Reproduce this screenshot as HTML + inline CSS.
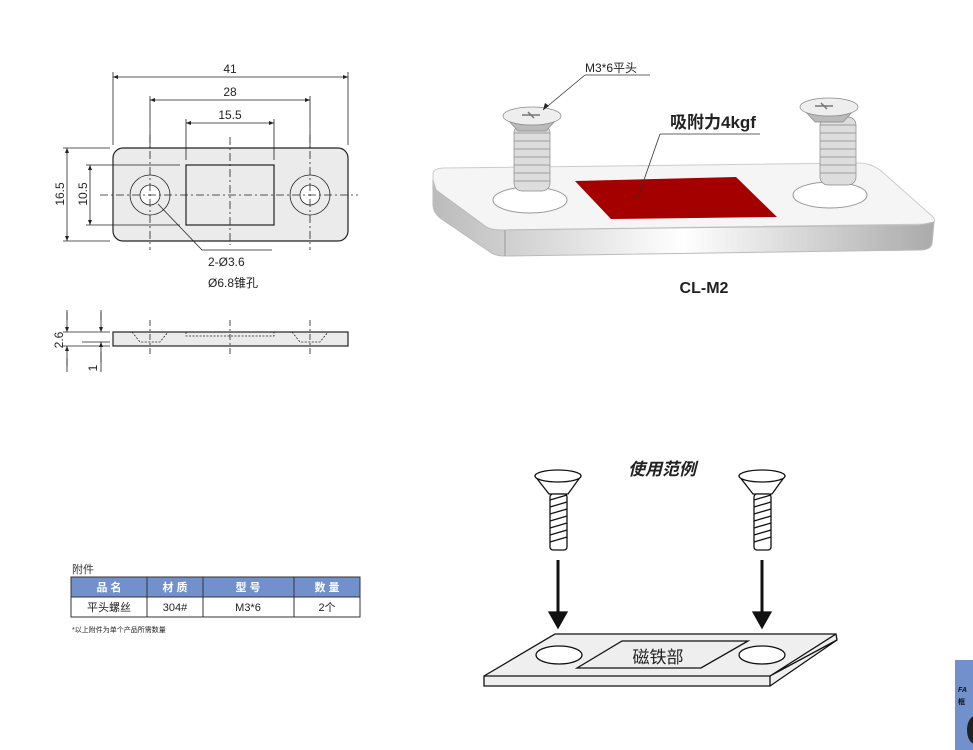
<!DOCTYPE html><html><head><meta charset="utf-8"><style>body{margin:0;background:#fff}svg{display:block}text{font-family:"Liberation Sans","Noto Sans CJK SC",sans-serif}</style></head><body>
<svg width="973" height="750" viewBox="0 0 973 750" xmlns="http://www.w3.org/2000/svg">
<defs><marker id="a" viewBox="0 0 10 10" refX="10" refY="5" markerUnits="userSpaceOnUse" markerWidth="8" markerHeight="5" orient="auto-start-reverse"><path d="M0,1L10,5L0,9z" fill="#222"/></marker>
<linearGradient id="g" x1="0" x2="1"><stop offset="0" stop-color="#bbb"/><stop offset=".5" stop-color="#fff"/><stop offset="1" stop-color="#aaa"/></linearGradient></defs>
<g stroke="#222" stroke-width="0.8" fill="none">
<rect x="113" y="148" width="235" height="93" rx="10" fill="#ebebeb" stroke-width="1.2"/>
<rect x="186" y="165" width="88" height="60" stroke-width="1.2"/>
<circle cx="150" cy="195" r="20"/><circle cx="150" cy="195" r="10" fill="#fff"/>
<circle cx="310" cy="195" r="20"/><circle cx="310" cy="195" r="10" fill="#fff"/>
<path d="M100 195H358M230 137V245M150 135V250M310 135V250" stroke-dasharray="8 3 2 3"/>
<path d="M113 72V145M348 72V145M150 96V148M310 96V148M186 119V160M274 119V160M63 148H110M63 241H110M86 165H180M86 225H180"/>
<path d="M113 77H348" marker-start="url(#a)" marker-end="url(#a)"/>
<path d="M150 100H310" marker-start="url(#a)" marker-end="url(#a)"/>
<path d="M186 123H274" marker-start="url(#a)" marker-end="url(#a)"/>
<path d="M67 148V241" marker-start="url(#a)" marker-end="url(#a)"/>
<path d="M90 165V225" marker-start="url(#a)" marker-end="url(#a)"/>
<path d="M158 204L202 250H272"/>
<rect x="113" y="332" width="235" height="14" fill="#ebebeb" stroke-width="1.2"/>
<path d="M132 332L140 342H160L168 332M186 332V336H274V332M292 332L300 342H320L328 332" stroke-dasharray="2 1.5"/>
<path d="M150 320V356M230 320V356M310 320V356" stroke-dasharray="6 3 2 3"/>
<path d="M63 332H110M63 346H110M82 342H110M67 310V320M67 358V372M101 310V320M101 352V372" />
<path d="M67 312V332" marker-end="url(#a)"/><path d="M67 366V346" marker-end="url(#a)"/>
<path d="M101 312V332" marker-end="url(#a)"/><path d="M101 362V342" marker-end="url(#a)"/>
</g>
<g font-size="12" fill="#222">
<text x="230" y="73" text-anchor="middle">41</text><text x="230" y="96" text-anchor="middle">28</text><text x="230" y="119" text-anchor="middle">15.5</text>
<text transform="translate(64,194) rotate(-90)" text-anchor="middle">16.5</text><text transform="translate(87,194) rotate(-90)" text-anchor="middle">10.5</text>
<text x="208" y="266">2-Ø3.6</text><text x="208" y="287">Ø6.8锥孔</text>
<text transform="translate(63,340) rotate(-90)" text-anchor="middle">2.6</text><text transform="translate(97,368) rotate(-90)" text-anchor="middle">1</text>
</g>
<!-- 3D -->
<path d="M433 174Q433 168 445 168L860 163Q870 163 880 170L932 216Q938 222 930 224L500 230Q490 230 485 226L436 190Q433 186 433 180Z" fill="#f5f5f5" stroke="#ccc"/>
<path d="M433 180L433 205Q433 212 440 218L490 252Q495 256 505 256L920 250Q930 250 932 244L934 222L920 225L500 230Q490 230 485 226L436 190Z" fill="url(#g)" stroke="#bbb"/>
<path d="M505 230L505 256" stroke="#999"/>
<ellipse cx="530" cy="200" rx="37" ry="13" fill="#fff" stroke="#999"/>
<ellipse cx="830" cy="195" rx="37" ry="13" fill="#fff" stroke="#999"/>
<path d="M575 181L736 177L777 217L611 219Z" fill="#a50000"/>
<g fill="#ddd" stroke="#888" stroke-width="0.7">
<rect x="514" y="125" width="36" height="66" rx="8"/><rect x="820" y="117" width="36" height="68" rx="8"/>
<path d="M514 133h36M514 141h36M514 149h36M514 157h36M514 165h36M514 173h36M514 181h36M820 125h36M820 133h36M820 141h36M820 149h36M820 157h36M820 165h36M820 173h36"/>
<path d="M507 119L518 131H546L557 119Z" fill="#bbb"/>
<ellipse cx="532" cy="116" rx="29" ry="9" fill="#eee"/>
<path d="M804 110L815 122H843L854 110Z" fill="#bbb"/>
<ellipse cx="829" cy="107" rx="29" ry="9" fill="#eee"/>
<path d="M522 115h18M528 112l6 6M815 106h18M821 103l6 6" stroke="#777" stroke-width="1.5"/>
</g>
<path d="M585 75H650M585 75L543 110M660 134H760M660 134L638 197" stroke="#333" stroke-width="0.8" fill="none"/>
<path d="M543 110l2-7 4 3z" fill="#222"/>
<text x="585" y="72" font-size="12" fill="#222">M3*6平头</text>
<text x="670" y="128" font-size="17" font-weight="bold" fill="#222">吸附力4kgf</text>
<text x="704" y="293" font-size="16" font-weight="bold" fill="#222" text-anchor="middle">CL-M2</text>
<!-- bottom usage -->
<text x="662" y="475" font-size="17" font-weight="bold" font-style="italic" fill="#222" text-anchor="middle">使用范例</text>
<g stroke="#111" stroke-width="1.3" fill="#fff">
<path d="M535 476Q558 466 581 476L568 494H549Z"/><ellipse cx="558" cy="476" rx="23" ry="6"/>
<rect x="550" y="494" width="17" height="56" rx="3"/>
<path d="M739 476Q762 466 785 476L772 494H753Z"/><ellipse cx="762" cy="476" rx="23" ry="6"/>
<rect x="754" y="494" width="17" height="56" rx="3"/>
<path d="M550 500l17-5M550 507l17-5M550 514l17-5M550 521l17-5M550 528l17-5M550 535l17-5M550 542l17-5M754 500l17-5M754 507l17-5M754 514l17-5M754 521l17-5M754 528l17-5M754 535l17-5M754 542l17-5" fill="none"/>
<path d="M558 560V612M762 560V612" stroke-width="3"/>
<path d="M549 612H567L558 628ZM753 612H771L762 628Z" fill="#111"/>
<path d="M484 676L555 634H836L837 640L770 686H484Z" fill="#efefef"/>
<path d="M484 676H770L837 640M770 676V686M836 634L770 676" fill="none"/>
<path d="M577 668L622 641H748L701 668Z" fill="#eee"/>
<ellipse cx="559" cy="655" rx="23" ry="9"/><ellipse cx="762" cy="655" rx="23" ry="9"/>
</g>
<text x="658" y="663" font-size="17" fill="#222" text-anchor="middle">磁铁部</text>
<!-- table -->
<text x="72" y="573" font-size="11" fill="#333">附件</text>
<rect x="71" y="577" width="289" height="20" fill="#7190cc"/>
<rect x="71" y="577" width="289" height="40" fill="none" stroke="#333" stroke-width="1"/>
<path d="M71 597H360M147 577V617M203 577V617M294 577V617" stroke="#333"/>
<g font-size="11" text-anchor="middle"><g fill="#fff" font-weight="bold"><text x="109" y="591">品 名</text><text x="175" y="591">材 质</text><text x="248" y="591">型 号</text><text x="327" y="591">数 量</text></g>
<g fill="#222"><text x="109" y="611">平头螺丝</text><text x="175" y="611">304#</text><text x="248" y="611">M3*6</text><text x="327" y="611">2个</text></g></g>
<text x="72" y="632" font-size="7" fill="#222">*以上附件为单个产品所需数量</text>
<rect x="955" y="660" width="18" height="90" fill="#7190cc"/>
<text x="958" y="692" font-size="7" font-weight="bold" font-style="italic" fill="#111">FA</text>
<text x="958" y="704" font-size="7" font-weight="bold" fill="#111">框</text>
<ellipse cx="975" cy="730" rx="8" ry="14" fill="#222"/>
</svg></body></html>
